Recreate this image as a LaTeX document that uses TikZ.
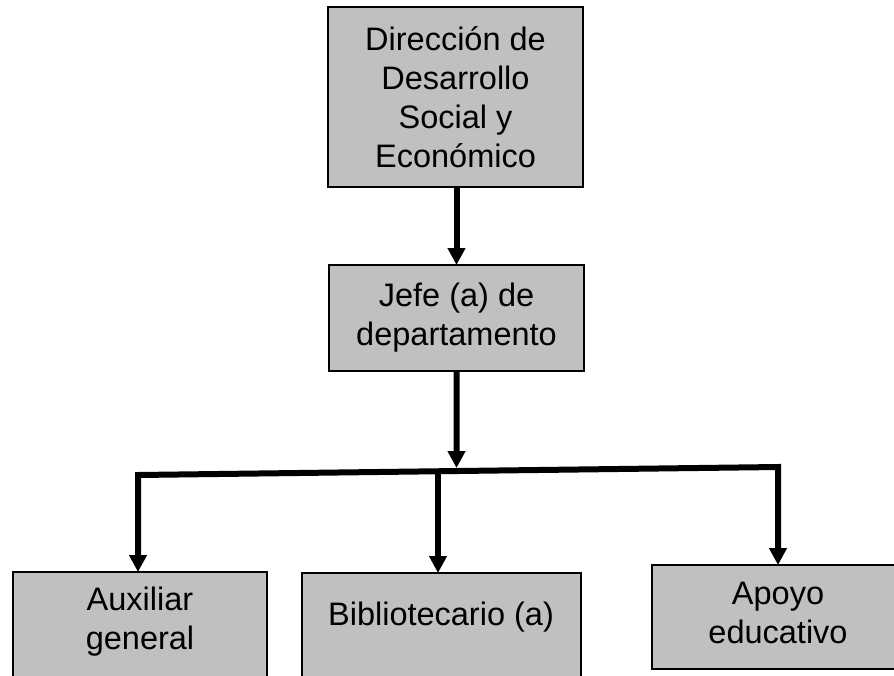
\documentclass[tikz,border=0pt]{standalone}
\usepackage{fontspec}
\setmainfont{Liberation Sans}
\usetikzlibrary{arrows.meta,calc}
\definecolor{boxgray}{RGB}{192,192,192}
\begin{document}
\begin{tikzpicture}[x=1pt,y=-1pt,
  box/.style={draw=black, line width=2pt, fill=boxgray, inner sep=0pt, outer sep=0pt, align=center, font=\fontsize{32.5}{39}\selectfont},
  lbl/.style={align=center, inner sep=0pt, font=\fontsize{32.5}{39}\selectfont},
  conn/.style={line width=6pt, line join=miter},
  tip/.style={-{Triangle[length=17pt,width=17pt]}},
  tips/.style={{Triangle[length=17pt,width=17pt]}-{Triangle[length=17pt,width=17pt]}}]
\useasboundingbox (0,0) rectangle (894,675);
\clip (0,0) rectangle (894,675);
% boxes
\node[box, minimum width=255pt, minimum height=180pt] (dir) at (455.5,97) {Dirección de\\Desarrollo\\Social y\\Económico};
\node[box, minimum width=255pt, minimum height=106pt] (jefe) at (456.5,318) {Jefe (a) de\\departamento};
\node[box, minimum width=254pt, minimum height=108pt] (aux) at (140,626) {};
\node[box, minimum width=279pt, minimum height=108pt] (bib) at (441.5,627) {};
\node[box, minimum width=252pt, minimum height=104pt] (apo) at (778,617) {};
% labels of the lower boxes
\node[lbl] (tAux) at (140,622) {Auxiliar\\general};
\node[lbl, anchor=base] (tBib) at (441,625) {Bibliotecario (a)};
\node[lbl] (tApo) at (778,613) {Apoyo\\educativo};
% connectors
\coordinate (hL) at (138,475);
\coordinate (hR) at (778,467);
\coordinate (hM) at ($(hL)!0.4977!(hR)+(0,-3)$);
\coordinate (hB) at ($(hL)!0.46875!(hR)$);
\draw[conn,tip] (dir.south -| jefe.north) -- (jefe.north);
\draw[conn,tip] (jefe.south) -- (hM);
\draw[conn,tips] (hL |- aux.north) -- (hL) -- (hR) -- (hR |- apo.north);
\draw[conn,tip] (hB) -- (hB |- bib.north);
\end{tikzpicture}
\end{document}
